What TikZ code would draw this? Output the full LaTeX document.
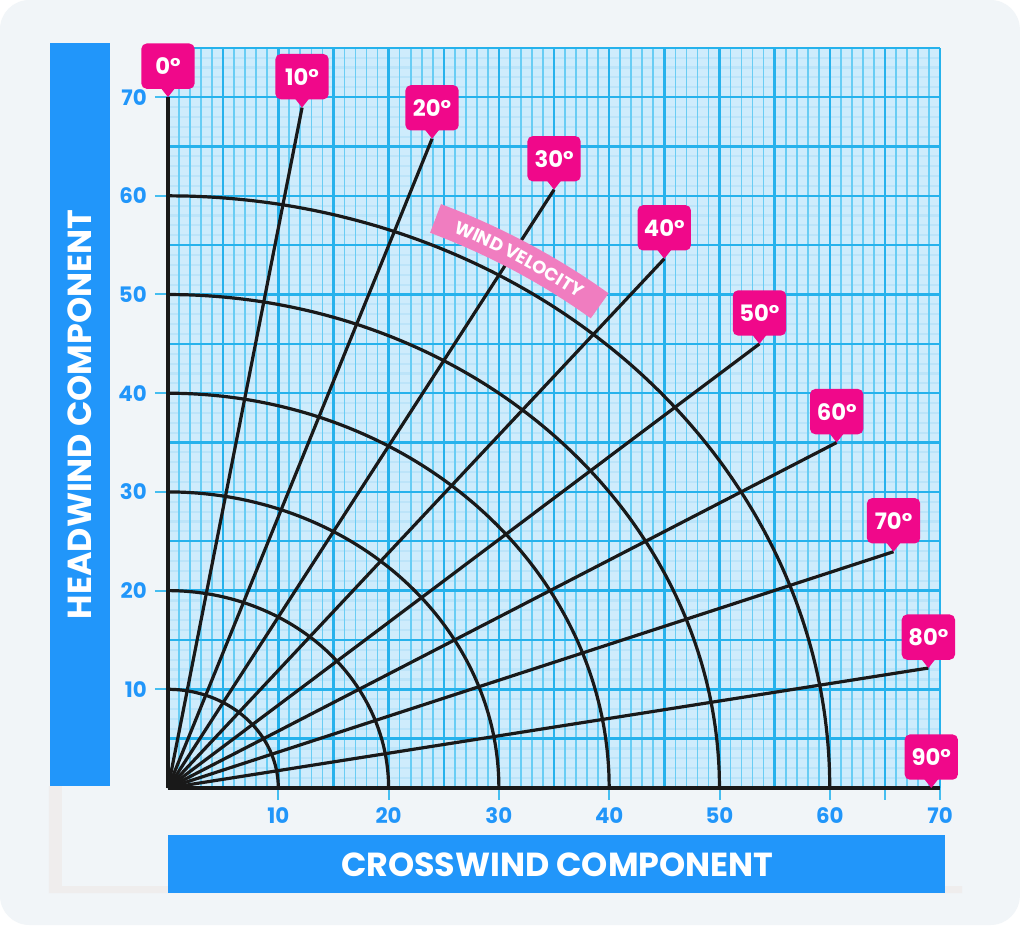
\documentclass[tikz,border=0pt]{standalone}
\usepackage{fontspec}
\setmainfont{Poppins}
\usetikzlibrary{decorations.text}
\definecolor{panelgray}{RGB}{241,245,248}
\definecolor{shadegray}{RGB}{239,237,237}
\definecolor{barblue}{RGB}{33,150,250}
\definecolor{tickblue}{RGB}{70,190,240}
\definecolor{gridbg}{RGB}{206,236,252}
\definecolor{gridfaint}{RGB}{188,228,249}
\definecolor{gridminor}{RGB}{105,205,244}
\definecolor{gridmajor}{RGB}{38,178,236}
\definecolor{pinpink}{RGB}{240,8,138}
\definecolor{bannerpink}{RGB}{240,125,192}
\newcommand{\bannerfont}{\bfseries\fontsize{13.5}{15}\selectfont}
\tikzset{
  faintline/.style={gridfaint, line width=1.6pt},
  minorline/.style={gridminor, line width=1.3pt},
  majorline/.style={gridmajor, line width=1.8pt},
  windray/.style={black!90, line width=2.4pt},
  speedarc/.style={black!90, line width=2.4pt},
  windpin/.style={fill=pinpink, rounded corners=4pt, text=white, minimum width=40pt,
    minimum height=34pt, inner sep=2pt, font=\bfseries\fontsize{17}{18}\selectfont},
  ticklbl/.style={text=barblue, font=\bfseries\fontsize{16}{18}\selectfont, inner sep=0pt},
  axistitle/.style={text=white, font=\bfseries\fontsize{25}{27}\selectfont, inner sep=0pt},
  banner/.style={bannerpink, line width=23pt}
}
\begin{document}
\begin{tikzpicture}[x=8.2725pt, y=7.4025pt]
% fond
\useasboundingbox (-15.231,-13.982) rectangle (77.607,79.838);
\fill[white] (-15.231,-13.982) rectangle (77.607,79.838);
\fill[panelgray, rounded corners=22pt] (-15.231,-13.88) rectangle (77.23,79.838);
\fill[shadegray] (-10.79,0.2) -- (-9.61,0.2) -- (-9.61,-9.93) -- (71.99,-9.93) -- (71.99,-10.64) -- (-10.79,-10.64) -- cycle;
% bandeaux des axes
\fill[barblue] (-10.68,0.2) rectangle (-5.26,75.49);
\fill[barblue] (0,-4.76) rectangle (70.44,-10.64);
\node[axistitle, rotate=90] (headlbl) at (-7.97,37.85) {HEADWIND COMPONENT};
\node[axistitle] (crosslbl) at (35.3,-7.75) {CROSSWIND COMPONENT};
% quadrillage
\fill[gridbg] (0,0) rectangle (70,75);
\foreach \j in {0,...,75} \draw[faintline] (0,\j) -- (70,\j);
\foreach \i in {0,...,70} \draw[minorline] (\i,0) -- (\i,75);
\foreach \i in {0,5,...,70} \draw[majorline] (\i,0) -- (\i,75);
\foreach \j in {0,5,...,75} \draw[majorline] (0,\j) -- (70,\j);
% graduations
\foreach \v in {10,20,...,70} {
  \draw[tickblue, line width=1.5pt] (-1.2,\v) -- (0,\v);
  \node[ticklbl, anchor=east] (yl\v) at (-1.9,\v) {\v};
}
\foreach \v in {10,20,...,70,65} \draw[tickblue, line width=1.5pt] (\v,0) -- (\v,-1.2);
\foreach \v in {10,20,...,70} \node[ticklbl] (xl\v) at (\v,-2.75) {\v};
% cercles de vitesse
\foreach \r in {10,20,...,60}
  \draw[speedarc] plot[smooth, domain=0:90, samples=50] (\x:\r);
% rayons
\coordinate (o) at (0,0);
\coordinate (xend) at (70,0);
\draw[windray] (o) -- (xend);
\foreach \a in {0,10,...,80} {
  \coordinate (t\a) at ({90-\a}:70);
  \draw[windray] (o) -- (t\a);
}
\coordinate (t90) at (69.2,0);
% etiquettes
\foreach \a in {0,10,...,90} {
  \node[windpin, anchor=south] (p\a) at ([yshift=6pt]t\a) {\a°};
  \fill[pinpink] ([xshift=-5.5pt,yshift=1pt]p\a.south) -- ([xshift=5.5pt,yshift=1pt]p\a.south) -- (t\a) -- cycle;
}
\draw[banner] (67.2:62.6) arc[start angle=67.2, end angle=51.3, x radius=517.86pt, y radius=463.40pt];
\path[postaction={decorate, decoration={text along path, text align=center, raise=-4.6pt,
  text={|\color{white}\bannerfont|WIND VELOCITY}}}]
  (67.2:62.6) arc[start angle=67.2, end angle=51.3, x radius=517.86pt, y radius=463.40pt];
\end{tikzpicture}
\end{document}
